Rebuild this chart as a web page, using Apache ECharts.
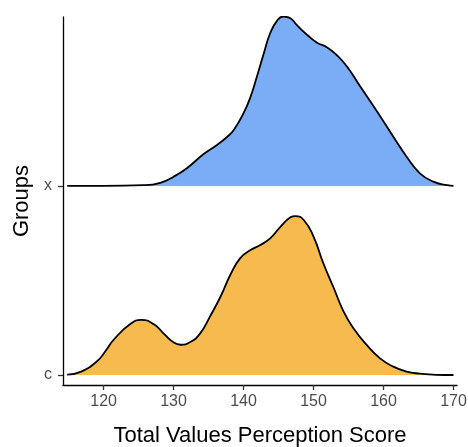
<!DOCTYPE html>
<html>
<head>
<meta charset="utf-8">
<script src="https://cdn.jsdelivr.net/npm/echarts@6/dist/echarts.min.js"></script>
<style>
  html, body { margin: 0; padding: 0; background: #fff; }
  #chart { width: 468px; height: 447px; }
</style>
</head>
<body>
<div id="chart"></div>
<script>
// groups, bottom to top, and where each ridge sits on the y axis
const groups = ['c', 'x'];
const groupBase = [1, 2];

// density ridge for group x (score, height in ridge units)
const scoreX = [114.8, 120, 125.7, 128.1, 130.0, 131.9, 134.3, 136.2, 137.6, 138.6, 140.0, 141.0, 141.9,
  142.9, 143.8, 144.8, 145.7, 146.7, 147.6, 149.1, 150.5, 151.9, 153.3, 154.8, 156.7, 159.1, 161.4,
  163.3, 165.2, 167.1, 169.1, 170.0];
const densX = [0, 0, 0.004, 0.017, 0.049, 0.094, 0.169, 0.217, 0.258, 0.296, 0.385, 0.472, 0.578,
  0.702, 0.808, 0.875, 0.896, 0.887, 0.852, 0.799, 0.758, 0.734, 0.693, 0.631, 0.525, 0.393, 0.261,
  0.155, 0.067, 0.023, 0.004, 0];

// density ridge for group c
const scoreC = [114.8, 116.8, 119.1, 120.3, 121.5, 123.9, 125.4, 127.2, 128.7, 130.1, 131.0, 132.4,
  133.8, 135.2, 136.7, 138.1, 139.5, 141.0, 142.4, 143.8, 145.2, 146.7, 147.4, 148.6, 150.0, 151.4,
  152.9, 154.3, 155.7, 157.6, 159.5, 161.4, 163.3, 165.2, 167.5, 170.0];
const densC = [0.002, 0.018, 0.074, 0.128, 0.189, 0.272, 0.292, 0.268, 0.215, 0.170, 0.160, 0.174,
  0.220, 0.309, 0.414, 0.529, 0.617, 0.661, 0.688, 0.723, 0.781, 0.834, 0.841, 0.820, 0.732, 0.591,
  0.459, 0.335, 0.247, 0.159, 0.088, 0.044, 0.018, 0.007, 0.001, 0];

const xTicks = [120, 130, 140, 150, 160, 170];

const colors = ['#F6BA4E', '#7BADF7'];

function ridge(scores, dens, base) {
  return scores.map((s, i) => [s, base + dens[i]]);
}

const chart = echarts.init(document.getElementById('chart'));

const axisText = { color: '#4D4D4D', fontSize: 16, fontFamily: 'Liberation Sans' };
const titleText = { color: '#000', fontSize: 22, fontFamily: 'Liberation Sans' };

chart.setOption({
  animation: false,
  grid: { left: 63, right: 11, top: 17, bottom: 62, outerBoundsMode: 'none', containLabel: false },
  xAxis: {
    type: 'value',
    min: 114.2,
    max: 170.5,
    name: 'Total Values Perception Score',
    nameLocation: 'middle',
    nameGap: 40,
    nameTextStyle: titleText,
    splitLine: { show: false },
    axisLine: { show: true, lineStyle: { color: '#000', width: 1.3 } },
    axisTick: { show: true, customValues: xTicks, length: 5, lineStyle: { color: '#333', width: 1.3 } },
    axisLabel: Object.assign({ customValues: xTicks, margin: 9 }, axisText)
  },
  yAxis: {
    type: 'value',
    min: 0.947,
    max: 2.894,
    name: 'Groups',
    nameLocation: 'middle',
    nameGap: 30,
    nameTextStyle: titleText,
    splitLine: { show: false },
    axisLine: { show: true, lineStyle: { color: '#000', width: 1.3 } },
    axisTick: { show: true, customValues: groupBase, length: 5, lineStyle: { color: '#333', width: 1.3 } },
    axisLabel: Object.assign({
      customValues: groupBase,
      margin: 11,
      formatter: (v) => groups[groupBase.indexOf(v)]
    }, axisText)
  },
  series: [
    {
      name: groups[1],
      type: 'line',
      smooth: 0.5,
      symbol: 'none',
      data: ridge(scoreX, densX, groupBase[1]),
      lineStyle: { color: '#000', width: 1.8 },
      areaStyle: { color: colors[1], opacity: 1, origin: groupBase[1] }
    },
    {
      name: groups[0],
      type: 'line',
      smooth: 0.5,
      symbol: 'none',
      data: ridge(scoreC, densC, groupBase[0]),
      lineStyle: { color: '#000', width: 1.8 },
      areaStyle: { color: colors[0], opacity: 1, origin: groupBase[0] }
    }
  ]
});
</script>
</body>
</html>
